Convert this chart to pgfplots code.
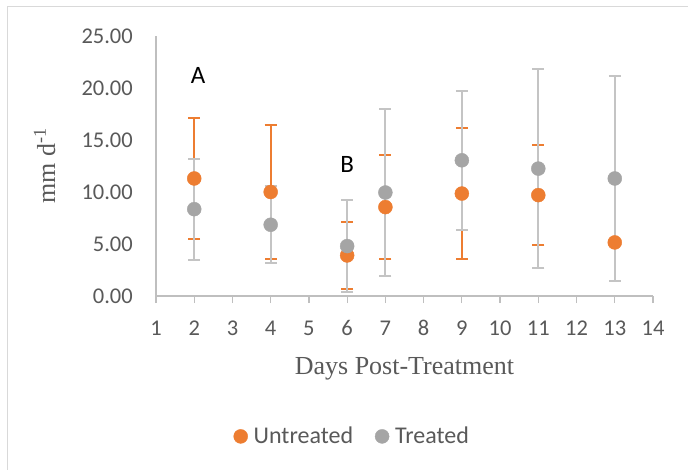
\documentclass[border=0pt]{standalone}
\usepackage{pgfplots}
\pgfplotsset{compat=1.18}
\usepackage{fontspec}
\setmainfont{Carlito}
\newfontfamily\tnr{Liberation Serif}
\definecolor{untr}{HTML}{ED7D31}
\definecolor{trt}{HTML}{A5A5A5}
\definecolor{trterr}{HTML}{C4C4C4}
\definecolor{axgray}{HTML}{BFBFBF}
\definecolor{txtgray}{HTML}{595959}
\definecolor{frame}{HTML}{D9D9D9}
\begin{document}
\begin{tikzpicture}
\useasboundingbox (0,0) rectangle (688pt,469pt);
\draw[frame, line width=1pt] (7pt,-2pt) -- (7pt,462pt) -- (690pt,462pt);
\begin{axis}[
  at={(156pt,173pt)}, anchor=south west,
  scale only axis, width=497pt, height=260pt,
  xmin=1, xmax=14, ymin=0, ymax=25,
  axis x line*=bottom, axis y line*=left,
  axis line style={-, draw=axgray, line width=1.3pt},
  xtick={1,...,14}, ytick={0,5,...,25},
  tick align=outside, major tick length=7pt,
  xtick style={draw=axgray, line width=1.3pt},
  ytick style={draw=none},
  /pgf/number format/assume math mode=true,
  ticklabel style={font=\fontsize{22.5}{26}\selectfont, text=txtgray, inner sep=0pt},
  yticklabel style={/pgf/number format/.cd, fixed, fixed zerofill, precision=2, /tikz/.cd, anchor=east, inner sep=0pt, xshift=-16pt},
  xticklabel style={anchor=base, yshift=-32pt},
  xlabel={\tnr Days Post-Treatment},
  ylabel={\tnr mm d\textsuperscript{-1}},
  xlabel style={at={(axis description cs:0.5,-0.3)}, anchor=base, font=\fontsize{26}{30}\selectfont, text=txtgray},
  ylabel style={at={(axis description cs:-0.2032,0.5)}, rotate=0, anchor=base, font=\fontsize{26}{30}\selectfont, text=txtgray},
  legend style={at={(axis description cs:0.395,-0.54)}, anchor=center, draw=none, fill=none,
    font=\fontsize{24}{28}\selectfont, text=txtgray, legend columns=2,
    /tikz/every odd column/.append style={column sep=4pt},
    /tikz/every even column/.append style={column sep=20pt}},
  legend image code/.code={\draw[#1] plot coordinates {(0pt,0pt)};},
  clip=false,
]
% error bars, untreated
\addplot[untr, line width=1.8pt, forget plot, mark=none, only marks,
  error bars/.cd, y dir=both, y explicit,
  error bar style={untr, line width=1.8pt},
  error mark=|, error mark options={untr, line width=1.8pt, mark size=6pt}]
  table[x=x, y=y, y error=e] {
x y e
2 11.3 5.8
4 10.0 6.45
6 3.9 3.25
7 8.55 5.0
9 9.85 6.3
11 9.7 4.8
};
% error bars, treated
\addplot[trterr, line width=1.8pt, forget plot, mark=none, only marks,
  error bars/.cd, y dir=both, y explicit,
  error bar style={trterr, line width=1.8pt},
  error mark=|, error mark options={trterr, line width=1.8pt, mark size=6pt}]
  table[x=x, y=y, y error=e] {
x y e
2 8.35 4.85
4 6.85 3.7
6 4.8 4.45
7 9.95 8.05
9 13.05 6.7
11 12.25 9.55
13 11.3 9.85
};
% markers
\addplot[only marks, mark=*, mark size=7pt, mark options={draw=untr, fill=untr}]
  table[x=x, y=y] {
x y
2 11.3
4 10.0
6 3.9
7 8.55
9 9.85
11 9.7
13 5.15
};
\addlegendentry{Untreated}
\addplot[only marks, mark=*, mark size=7pt, mark options={draw=trt, fill=trt}]
  table[x=x, y=y] {
x y
2 8.35
4 6.85
6 4.8
7 9.95
9 13.05
11 12.25
13 11.3
};
\addlegendentry{Treated}
\node[font=\fontsize{25}{30}\selectfont] at (axis cs:2.1,21.25) {A};
\node[font=\fontsize{25}{30}\selectfont] at (axis cs:6.0,12.6) {B};
\end{axis}
\end{tikzpicture}
\end{document}
